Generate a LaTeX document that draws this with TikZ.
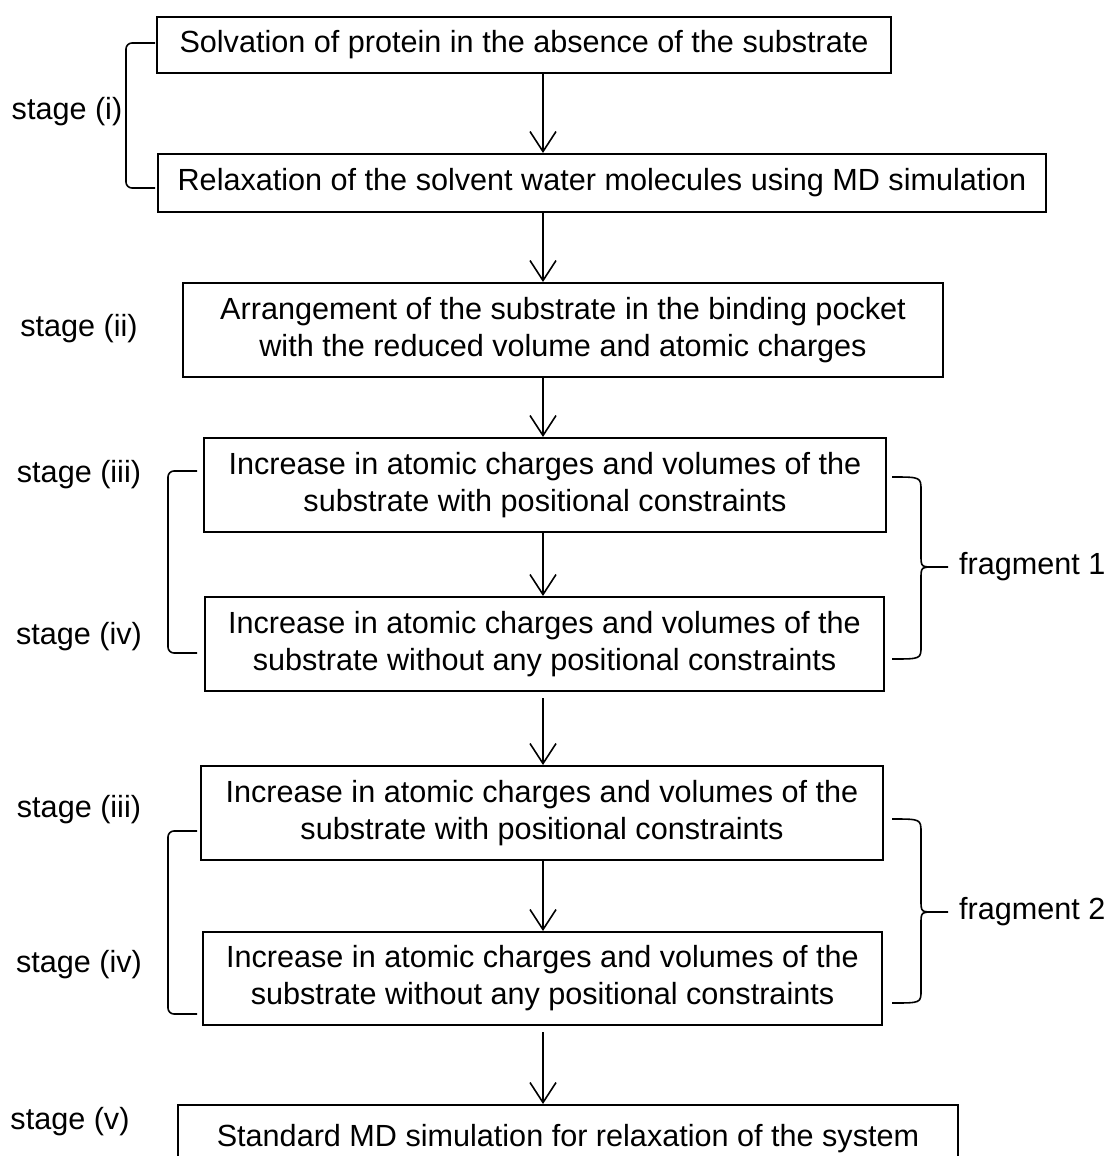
\documentclass[tikz,border=0pt]{standalone}
\usepackage{fontspec}
\setmainfont{Liberation Sans}
\usetikzlibrary{arrows.meta}

\tikzset{
  procbox/.style={draw, line width=1pt, inner sep=0pt, align=center,
    font=\fontsize{15.3}{18.5}\selectfont},
  stagelbl/.style={font=\fontsize{15.3}{18.5}\selectfont},
  flow/.style={line width=0.8pt, -{Straight Barb[length=10pt, width=13pt, line width=0.8pt]}},
  brack/.style={line width=0.8pt, rounded corners=3pt}
}

\begin{document}
\begin{tikzpicture}[x=0.5pt, y=-0.5pt]
\useasboundingbox (0,0) rectangle (1105,1156);
\clip (0,0) rectangle (1105,1156);

% boxes
\node[procbox, minimum width=367pt, minimum height=28pt] (solv) at (524, 45)
  {Solvation of protein in the absence of the substrate};
\node[procbox, minimum width=444pt, minimum height=29pt] (relax) at (602, 183)
  {Relaxation of the solvent water molecules using MD simulation};
\node[procbox, minimum width=380pt, minimum height=47pt] (arrange) at (563, 330)
  {Arrangement of the substrate in the binding pocket\\with the reduced volume and atomic charges};
\node[procbox, minimum width=341pt, minimum height=47pt] (incA) at (545, 485)
  {Increase in atomic charges and volumes of the\\substrate with positional constraints};
\node[procbox, minimum width=339.5pt, minimum height=47pt] (freeA) at (544.5, 644)
  {Increase in atomic charges and volumes of the\\substrate without any positional constraints};
\node[procbox, minimum width=341pt, minimum height=47pt] (incB) at (542, 813)
  {Increase in atomic charges and volumes of the\\substrate with positional constraints};
\node[procbox, minimum width=339.5pt, minimum height=46.5pt] (freeB) at (542.5, 978.5)
  {Increase in atomic charges and volumes of the\\substrate without any positional constraints};
\node[procbox, minimum width=390pt, minimum height=34pt] (stdmd) at (568, 1139)
  {Standard MD simulation for relaxation of the system};

% stage labels
\node[stagelbl] (st1) at (67, 112) {stage (i)};
\node[stagelbl] (st2) at (79, 329) {stage (ii)};
\node[stagelbl] (st3a) at (79, 475) {stage (iii)};
\node[stagelbl] (st4a) at (79, 637) {stage (iv)};
\node[stagelbl] (st3b) at (79, 810) {stage (iii)};
\node[stagelbl] (st4b) at (79, 965) {stage (iv)};
\node[stagelbl] (st5) at (70, 1122) {stage (v)};

% arrows
\coordinate (ax) at (543, 0);
\draw[flow] (solv.south -| ax) -- (relax.north -| ax);
\draw[flow] (relax.south -| ax) -- (arrange.north -| ax);
\draw[flow] (arrange.south -| ax) -- (incA.north -| ax);
\draw[flow] (incA.south -| ax) -- (freeA.north -| ax);
\draw[flow] ([yshift=-3pt]freeA.south -| ax) -- (incB.north -| ax);
\draw[flow] (incB.south -| ax) -- (freeB.north -| ax);
\draw[flow] ([yshift=-3pt]freeB.south -| ax) -- (stdmd.north -| ax);

% left brackets
\draw[brack] (155, 43) -- (126, 43) -- (126, 188) -- (155, 188);
\draw[brack] (197, 471) -- (168, 471) -- (168, 653) -- (197, 653);
\draw[brack] (197, 831) -- (168, 831) -- (168, 1014) -- (197, 1014);

% right braces
\draw[line width=0.8pt] (892, 477) .. controls (921, 477) .. (921, 491) -- (921, 555)
  .. controls (921, 567) .. (935, 567) -- (948, 567);
\draw[line width=0.8pt] (935, 567) .. controls (921, 567) .. (921, 579) -- (921, 646)
  .. controls (921, 659) .. (892, 659);
\node[stagelbl, anchor=west] (frag1) at (952, 567) {fragment 1};

\draw[line width=0.8pt] (892, 819) .. controls (921, 819) .. (921, 833) -- (921, 900)
  .. controls (921, 912) .. (935, 912) -- (948, 912);
\draw[line width=0.8pt] (935, 912) .. controls (921, 912) .. (921, 924) -- (921, 990)
  .. controls (921, 1003) .. (892, 1003);
\node[stagelbl, anchor=west] (frag2) at (952, 912) {fragment 2};
\end{tikzpicture}
\end{document}
